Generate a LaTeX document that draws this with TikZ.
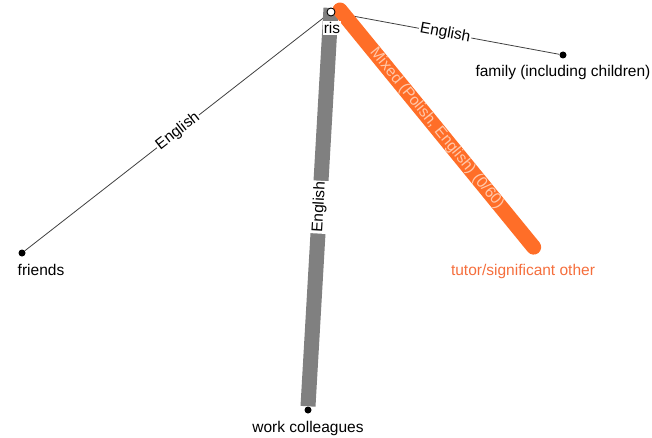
\documentclass[tikz,border=0pt]{standalone}
\usepackage{fontspec}
\setmainfont{Liberation Sans}
\begin{document}
\begin{tikzpicture}[x=1pt,y=-1pt,
  every node/.style={font=\fontsize{15.5}{18}\selectfont},
  dot/.style={circle,fill=black,inner sep=0pt,minimum size=7pt},
  thin link/.style={draw=black!75,line width=0.8pt},
  gray bar/.style={draw=barGray,line width=15pt},
  orange bar/.style={draw=barOrange,line width=15pt,line cap=round},
  link label/.style={fill=white,inner sep=1pt},
  name label/.style={inner sep=1pt}]
\definecolor{barGray}{RGB}{128,128,128}
\definecolor{barOrange}{RGB}{255,110,40}
\definecolor{paleOrange}{RGB}{255,200,170}
\definecolor{tutorOrange}{RGB}{245,110,60}
\useasboundingbox (0,0) rectangle (652,438);

% nodes
\coordinate (ego) at (331,12);
\node[dot] (friends) at (22,253) {};
\node[dot] (family) at (563,55) {};
\node[dot] (work) at (308,410) {};
\node[dot,fill=barOrange] (tutor) at (536,250) {};

% links
\draw[thin link] (ego) -- (friends) node[midway,sloped,link label] {English};
\draw[thin link] (ego) -- (family) node[midway,sloped,link label] {English};
\draw[gray bar] ([yshift=4]ego) -- (work.north) node[midway,sloped,fill=white,inner sep=1pt] {English};
\draw[orange bar] ([xshift=9,yshift=2]ego) -- (tutor) node[midway,sloped,text=paleOrange,inner sep=1pt] {Mixed (Polish, English) (0/60)};

% ego
\node[draw=black,fill=white,circle,inner sep=0pt,minimum size=8pt,line width=0.9pt] (egoc) at (ego) {};
\node[fill=white,inner sep=1pt] (ris) at (332,28) {ris};

% node labels
\node[name label] (lfriends) at (41,270) {friends};
\node[name label] (lfamily) at (563,72) {family (including children)};
\node[name label] (lwork) at (308,428) {work colleagues};
\node[name label,text=tutorOrange] (ltutor) at (523,271) {tutor/significant other};
\end{tikzpicture}
\end{document}
